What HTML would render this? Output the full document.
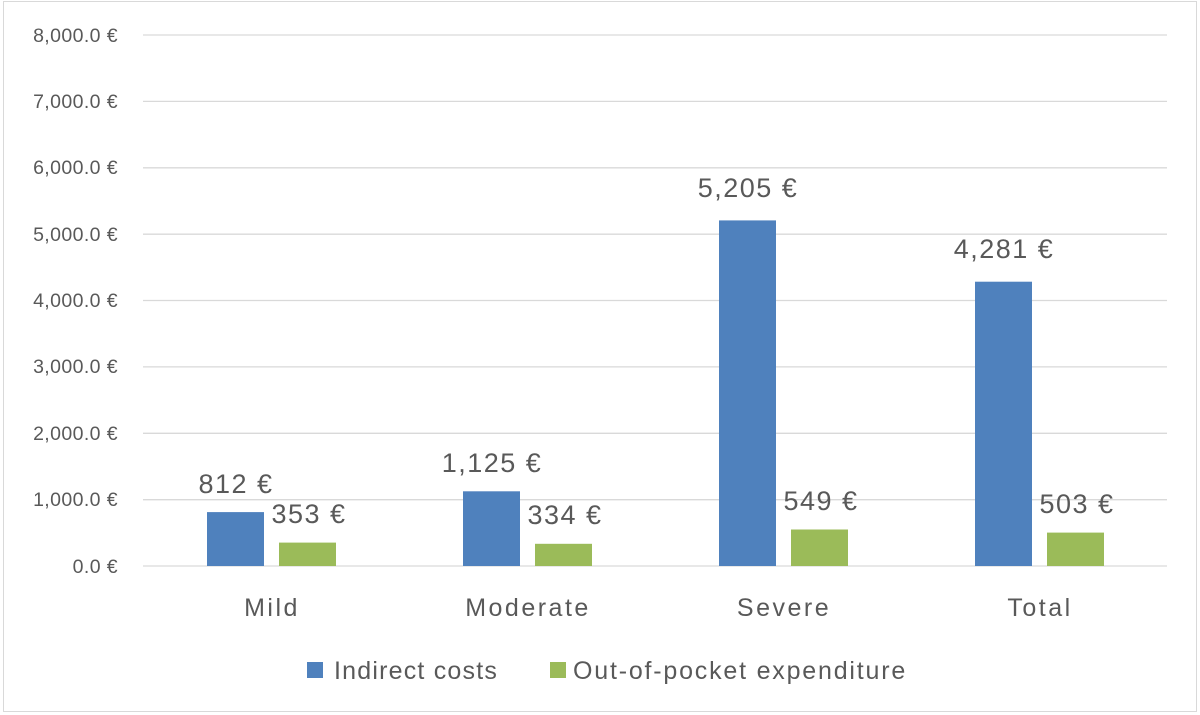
<!DOCTYPE html>
<html><head><style>body{margin:0;background:#fff}svg{display:block}text{font-family:"Liberation Sans",sans-serif;fill:#595959}</style></head><body>
<svg width="1200" height="715" xmlns="http://www.w3.org/2000/svg">
<rect x="3.5" y="1.5" width="1193" height="710" fill="#fff" stroke="#d9d9d9"/>
<g stroke="#d9d9d9" stroke-width="1.3">
<line x1="143" x2="1167" y1="35" y2="35"/><line x1="143" x2="1167" y1="101.4" y2="101.4"/><line x1="143" x2="1167" y1="167.8" y2="167.8"/><line x1="143" x2="1167" y1="234.2" y2="234.2"/><line x1="143" x2="1167" y1="300.5" y2="300.5"/><line x1="143" x2="1167" y1="366.9" y2="366.9"/><line x1="143" x2="1167" y1="433.3" y2="433.3"/><line x1="143" x2="1167" y1="499.7" y2="499.7"/><line x1="143" x2="1167" y1="566" y2="566"/>
</g>
<g font-size="19.5" text-anchor="end" letter-spacing="0.4">
<text x="118" y="42">8,000.0 €</text><text x="118" y="108">7,000.0 €</text><text x="118" y="174">6,000.0 €</text><text x="118" y="241">5,000.0 €</text><text x="118" y="307">4,000.0 €</text><text x="118" y="373">3,000.0 €</text><text x="118" y="440">2,000.0 €</text><text x="118" y="506">1,000.0 €</text><text x="118" y="573">0.0 €</text>
</g>
<g fill="#4f81bd">
<rect x="207" y="512.1" width="57" height="53.9"/><rect x="463" y="491.3" width="57" height="74.7"/><rect x="719" y="220.4" width="57" height="345.6"/><rect x="975" y="281.7" width="57" height="284.3"/>
</g>
<g fill="#9bbb59">
<rect x="279" y="542.6" width="57" height="23.4"/><rect x="535" y="543.8" width="57" height="22.2"/><rect x="791" y="529.5" width="57" height="36.5"/><rect x="1047" y="532.6" width="57" height="33.4"/>
</g>
<g font-size="27" text-anchor="middle" fill="#404040" letter-spacing="1.5">
<text x="236" y="493">812 €</text><text x="309" y="523">353 €</text>
<text x="492" y="472">1,125 €</text><text x="565" y="524">334 €</text>
<text x="748" y="197">5,205 €</text><text x="821" y="510">549 €</text>
<text x="1004" y="258">4,281 €</text><text x="1077" y="513">503 €</text>
</g>
<g font-size="25" text-anchor="middle" letter-spacing="2.5">
<text x="272" y="616">Mild</text><text x="528" y="616">Moderate</text><text x="784" y="616">Severe</text><text x="1040" y="616">Total</text>
</g>
<rect x="307" y="662" width="16" height="16" fill="#4f81bd"/>
<text x="334" y="679" font-size="25" letter-spacing="1.2">Indirect costs</text>
<rect x="550" y="662" width="16" height="16" fill="#9bbb59"/>
<text x="573" y="679" font-size="25" letter-spacing="1.8">Out-of-pocket expenditure</text>
</svg>
</body></html>
